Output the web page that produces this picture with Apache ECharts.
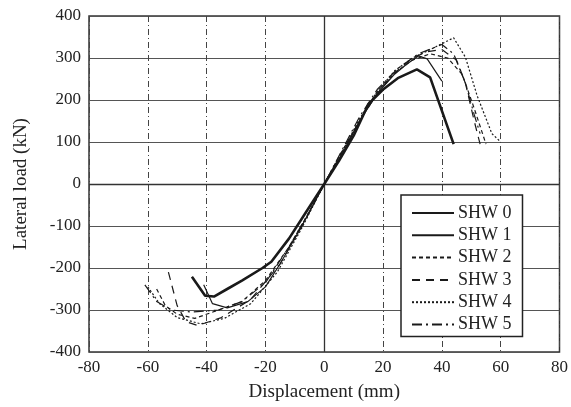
<!DOCTYPE html>
<html><head><meta charset="utf-8">
<script src="https://cdn.jsdelivr.net/npm/echarts@6/dist/echarts.min.js"></script>
<style>html,body{margin:0;padding:0;background:#fff}#c{width:571px;height:407px}</style>
</head><body><div id="c"></div>
<script>
var seriesNames = ['SHW 0','SHW 1','SHW 2','SHW 3','SHW 4','SHW 5'];
var xTicks = [-80,-60,-40,-20,0,20,40,60,80];
var yTicks = [-400,-300,-200,-100,0,100,200,300,400];
var shw0 = [[-45,-221],[-40.5,-266],[-37.5,-268],[-33,-250],[-28,-230],[-21,-200],[-18,-185],[-12,-130],[-6,-65],[0,0],[5,55],[10,115],[15,190],[20,225],[25,252],[31.5,273],[36,254],[44,95]];
var shw1 = [[-41,-240],[-38,-285],[-33,-295],[-26,-280],[-20,-245],[-15,-190],[-8,-105],[0,0],[6,70],[12,150],[18,215],[24,262],[28,285],[32,305],[35,298],[40,245]];
var shw2 = [[-57,-250],[-54,-290],[-50,-310],[-44,-320],[-36,-300],[-28,-280],[-20,-230],[-12,-150],[-5,-65],[0,0],[5,65],[12,150],[18,220],[24,265],[30,295],[36,310],[42,300],[47,260],[51,180],[55,95]];
var shw3 = [[-53,-210],[-50,-290],[-47,-328],[-43,-337],[-35,-318],[-25,-275],[-15,-190],[-6,-80],[0,0],[6,75],[12,150],[18,215],[24,265],[30,300],[35,315],[40,320],[45,295],[48,240],[51,150],[53,95]];
var shw4 = [[-60,-245],[-56,-285],[-50,-318],[-42,-333],[-34,-320],[-25,-285],[-16,-210],[-8,-110],[0,0],[6,75],[12,155],[18,220],[24,270],[30,300],[36,320],[44,348],[48,302],[52,210],[57,120],[60,100]];
var shw5 = [[-61,-240],[-57,-280],[-52,-300],[-45,-305],[-36,-300],[-28,-280],[-20,-235],[-12,-150],[-5,-65],[0,0],[6,80],[12,160],[18,225],[25,275],[32,310],[40,332],[44,310],[48,240],[51,165],[53,120]];

var allData = [shw0, shw1, shw2, shw3, shw4, shw5];
var styles = [
  {width:2.6, type:'solid'},
  {width:1.2, type:'solid'},
  {width:1.2, type:[4,3]},
  {width:1.2, type:[8,6]},
  {width:1.2, type:[2,2]},
  {width:1.2, type:[10,4,2,4]}
];
var font = 'Liberation Serif, Times New Roman, serif';
var chart = echarts.init(document.getElementById('c'));
var series = seriesNames.map(function(n,i){
  var s = {
    name:n, type:'line', data:allData[i], symbol:'none', smooth:false,
    lineStyle:{color:'#1a1a1a', width:styles[i].width, type:styles[i].type},
    itemStyle:{color:'#1a1a1a'}, z:5
  };
  if(i===0){
    s.markLine = {silent:true, symbol:'none', label:{show:false},
      lineStyle:{color:'#333', width:1.3, type:'solid'},
      data:[{xAxis:0},{yAxis:0}]};
  }
  return s;
});
chart.setOption({
  animation:false,
  grid:{left:89, right:9, top:16, bottom:54, show:true, borderColor:'#333', borderWidth:1.5},
  legend:{
    orient:'vertical', left:401, top:195,
    padding:[9,11,3,10], itemGap:4.3, itemWidth:42, itemHeight:14,
    itemStyle:{opacity:0},
    backgroundColor:'#fff', borderColor:'#222', borderWidth:1.5,
    textStyle:{fontFamily:font, fontSize:18, color:'#222', padding:[0,0,0,-1]},
    data:seriesNames
  },
  xAxis:{
    type:'value', min:-80, max:80, interval:20,
    axisLine:{show:false}, axisTick:{show:false},
    axisLabel:{fontFamily:font, fontSize:17, color:'#222', margin:7},
    splitLine:{lineStyle:{color:'#444', width:1, type:[6,3,1,3]}},
    name:'Displacement (mm)', nameLocation:'middle', nameGap:31,
    nameTextStyle:{fontFamily:font, fontSize:19, color:'#222'}
  },
  yAxis:{
    type:'value', min:-400, max:400, interval:100,
    axisLine:{show:false}, axisTick:{show:false},
    axisLabel:{fontFamily:font, fontSize:17, color:'#222', margin:8},
    splitLine:{lineStyle:{color:'#555', width:1, type:'solid'}},
    name:'Lateral load (kN)', nameLocation:'middle', nameGap:58, nameRotate:90,
    nameTextStyle:{fontFamily:font, fontSize:19, color:'#222'}
  },
  series:series
});
</script></body></html>
